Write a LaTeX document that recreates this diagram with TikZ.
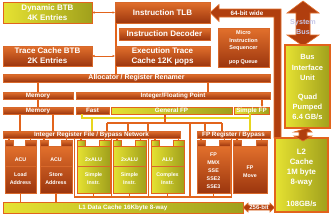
\documentclass[tikz,border=0pt]{standalone}
\usepackage{fontspec}
\setmainfont{Liberation Sans}
\usetikzlibrary{arrows.meta}
\definecolor{ob}{HTML}{D8682A}
\definecolor{otop}{HTML}{E2702C}
\definecolor{obot}{HTML}{9C360E}
\definecolor{yl}{HTML}{E6E232}
\definecolor{yr}{HTML}{A0A01C}
\definecolor{ln}{HTML}{E2641C}
\definecolor{yln}{HTML}{E8D61E}
\definecolor{bandf}{HTML}{B03E0E}
\definecolor{sbus}{HTML}{C8C8E8}
\newcommand\mybox[7]{\node[#2, minimum width={(#5-#3)*1pt}, minimum height={(#6-#4)*1pt}] (#1) at (#3,#4) {#7};}
\newcommand\eunit[5]{%
 \node[#2, minimum width={(#4-#3)*1pt}, minimum height=47pt] (#1) at (#3,146) {};
 \node[#2, minimum width=8pt, minimum height=6pt] (#1L) at (#3,140) {};
 \node[#2, minimum width=11pt, minimum height=6pt] (#1R) at (#4-11,140) {};
 \draw[conn] (#1L.north |- #5.south) -- (#1L.north);
 \draw[conn] (#1R.north |- #5.south) -- (#1R.north);}
\newcommand\hunit[3]{%
 \draw[draw=ob, line width=0.6pt] ([yshift=-20pt]#1.north west) -- ([yshift=-20pt]#1.north east);
 \node[utext] (#1H) at ([yshift=-14pt]#1.north) {#2};
 \node[utext] (#1B) at ([yshift=-33pt]#1.north) {#3};}
\begin{document}
\begin{tikzpicture}[x=1pt,y=-1pt,
 base/.style={anchor=north west, inner sep=0pt, outer sep=0pt, text=white, font=\bfseries\fontsize{8}{10}\selectfont, align=center, line width=0.6pt},
 obox/.style={base, draw=ob, top color=otop, bottom color=obot},
 ybox/.style={base, draw=ln, left color=yl, right color=yr},
 ybig/.style={base, draw=ln, line width=1.6pt, left color=yl, right color=yr},
 bar/.style={font=\bfseries\fontsize{6.3}{7}\selectfont},
 utext/.style={text=white, inner sep=0pt, align=center, font=\bfseries\fontsize{5.3}{8}\selectfont},
 btext/.style={text=white, inner sep=0pt, align=center, font=\bfseries\fontsize{7.5}{10.3}\selectfont},
 conn/.style={draw=ln, line width=1.1pt},
 yconn/.style={draw=yln, line width=1.1pt},
 dbl/.style={conn, line width=0.8pt, {Latex[length=2.5pt,width=2.5pt]}-{Latex[length=2.5pt,width=2.5pt]}},
 band/.style={fill=bandf, draw=otop, line width=0.6pt}]
\useasboundingbox[fill=white] (0,0) rectangle (332,220);
% front end
\mybox{dbtb}{ybox}{3}{2}{92}{23}{Dynamic BTB\\4K Entries}
\mybox{itlb}{obox}{115}{2}{210}{23}{Instruction TLB}
\mybox{idec}{obox}{119}{28}{210}{40}{Instruction Decoder}
\mybox{etc}{obox}{115}{46}{210}{66}{Execution Trace\\Cache 12K µops}
\mybox{tbtb}{obox}{3}{46}{92}{66}{Trace Cache BTB\\2K Entries}
\mybox{mis}{obox}{218}{28}{269}{67}{}
\node[utext, font=\bfseries\fontsize{5.5}{7.5}\selectfont] (misT) at (243.5,41) {Micro\\Instruction\\Sequencer};
\node[utext, font=\bfseries\fontsize{5.5}{7.5}\selectfont] (misQ) at (243.5,62) {µop Queue};
\draw[dbl] (dbtb.east) -- (itlb.west);
\draw[dbl] (tbtb.east) -- (etc.west);
\draw[conn] ([xshift=1pt]itlb.south west) -- ([xshift=1pt]etc.north west);
\draw[conn] ([xshift=1pt]etc.south west) -- ([xshift=1pt]etc.south west |- 0,74);
% 64-bit band
\draw[band] (itlb.east) -- (219,4.5) -- (219,9) -- (281,9) -- (281,138) -- (274,138) -- (274,17) -- (219,17) -- (219,21.5) -- cycle;
\node[btext, font=\bfseries\fontsize{6.3}{7}\selectfont] (w64) at (247,13) {64-bit wide};
% system bus
\draw[band] (303,1) -- (319,13) -- (310,13) -- (310,35) -- (319,35) -- (303,46) -- (287,35) -- (296,35) -- (296,13) -- (287,13) -- cycle;
\node[btext, text=sbus, font=\bfseries\fontsize{7.2}{9.5}\selectfont] (sbusT) at (303,27) {System\\Bus};
\mybox{biu}{ybig}{285}{45}{330}{128}{}
\node[btext] (biuA) at (307.5,67.5) {Bus\\Interface\\Unit};
\node[btext] (biuB) at (307.5,107) {Quad\\Pumped\\6.4 GB/s};
\mybox{l2}{ybig}{275}{138}{328}{212}{}
\node[btext, font=\bfseries\fontsize{7.8}{10}\selectfont] (l2a) at (301.5,168) {L2\\Cache\\1M byte\\8-way};
\node[btext, font=\bfseries\fontsize{7.5}{10}\selectfont] (l2b) at (301.5,204) {108GB/s};
\draw[band] (biu.south) -- (312,132) -- (307,132) -- (307,136) -- (312,136) -- (303,141) -- (294,136) -- (299,136) -- (299,132) -- (294,132) -- cycle;
% allocator and queues
\mybox{alloc}{obox,font=\bfseries\fontsize{7}{8}\selectfont}{3}{74}{270}{82}{Allocator / Register Renamer}
\mybox{mem1}{obox,bar}{3}{92}{73}{99}{Memory}
\mybox{intfp}{obox,bar}{76}{92}{270}{99}{Integer/Floating Point}
\mybox{mem2}{obox,bar}{3}{107}{73}{114}{Memory}
\mybox{fast}{obox,bar}{76}{107}{109}{114}{Fast}
\mybox{gfp}{ybox,bar}{111}{107}{232}{114}{General FP}
\mybox{sfp}{ybox,bar}{234}{107}{269}{114}{Simple FP}
\draw[conn] (alloc.south -| mem1) -- (mem1.north);
\draw[conn] (alloc.south -| 208,0) -- (intfp.north -| 208,0);
\draw[conn] (mem1.south) -- (mem2.north);
\draw[conn, -{Latex[length=2.5pt,width=3pt]}] (intfp.south -| 262,0) -- (sfp.north -| 262,0);
% register files
\mybox{irf}{obox,bar}{3}{131}{180}{138}{Integer Register File / Bypass Network}
\mybox{fprf}{obox,bar}{197}{131}{270}{138}{FP Register / Bypass}
\draw[conn] (mem2.south -| 20,0) -- (irf.north -| 20,0);
\draw[conn] (mem2.south -| 53,0) -- (irf.north -| 53,0);
\coordinate (yA) at (82,118);
\coordinate (yB) at (250,118);
\coordinate (yC) at (92,118);
\draw[yconn] (fast.south -| yA) -- (yA) -- (yB) -- (fprf.north -| yB);
\draw[yconn] (sfp.south -| yB) -- (yB);
\draw[yconn] (yC) -- (irf.north -| yC);
\coordinate (oA) at (107,123);
\coordinate (oB) at (222,123);
\coordinate (oG) at (165,123);
\coordinate (oM) at (190,123);
\draw[conn] (gfp.south -| oG) -- (oG);
\draw[conn] (oA) -- (oB);
\foreach \x [count=\i] in {107,128,148} {\coordinate (od\i) at (\x,123); \draw[conn] (od\i) -- (irf.north -| od\i);}
\foreach \x [count=\i] in {205,222} {\coordinate (of\i) at (\x,123); \draw[conn] (of\i) -- (fprf.north -| of\i);}
% bypass
\coordinate (c1) at (74.5,197);
\coordinate (c2) at (111.5,197);
\coordinate (c3) at (148.5,197);
\coordinate (c4) at (190,197);
\coordinate (c5) at (231.5,197);
\draw[conn] (irf.south -| c1) -- (c1) -- (c5) -- (fprf.south -| c5);
\draw[conn] (irf.south -| c2) -- (c2);
\draw[conn] (irf.south -| c3) -- (c3);
\draw[conn] (oM) -- (c4);
% execution units
\eunit{acu1}{obox}{5}{36}{irf}
\eunit{acu2}{obox}{40}{72}{irf}
\eunit{alu1}{ybox}{77}{110}{irf}
\eunit{alu2}{ybox}{113}{146}{irf}
\eunit{alu3}{ybox}{151}{184}{irf}
\eunit{fpu}{obox}{197}{230}{fprf}
\eunit{fpm}{obox}{233}{267}{fprf}
\hunit{acu1}{ACU}{Load\\Address}
\hunit{acu2}{ACU}{Store\\Address}
\hunit{alu1}{2xALU}{Simple\\Instr.}
\hunit{alu2}{2xALU}{Simple\\Instr.}
\hunit{alu3}{ALU}{Complex\\Instr.}
\node[utext] (fpuT) at ([yshift=-25pt]fpu.north) {FP\\MMX\\SSE\\SSE2\\SSE3};
\node[utext] (fpmT) at ([yshift=-26pt]fpm.north) {FP\\Move};
\foreach \u in {alu1,alu2,alu3,fpu} {\draw[conn] (\u.south) -- (\u.south |- c1);}
% L1 cache
\mybox{l1}{ybox,bar}{3}{202}{243}{213}{L1 Data Cache 16Kbyte 8-way}
\draw[conn] (acu1.south) -- (acu1.south |- l1.north);
\draw[conn] (acu2.south) -- (acu2.south |- l1.north);
\draw[band] (l1.east) -- (248,203) -- (248,205) -- (270,205) -- (270,203) -- (274.5,207.5) -- (270,212) -- (270,210) -- (248,210) -- (248,212) -- cycle;
\node[btext, font=\bfseries\fontsize{6}{7}\selectfont] (b256) at (259,207.5) {256-bit};
\end{tikzpicture}
\end{document}
